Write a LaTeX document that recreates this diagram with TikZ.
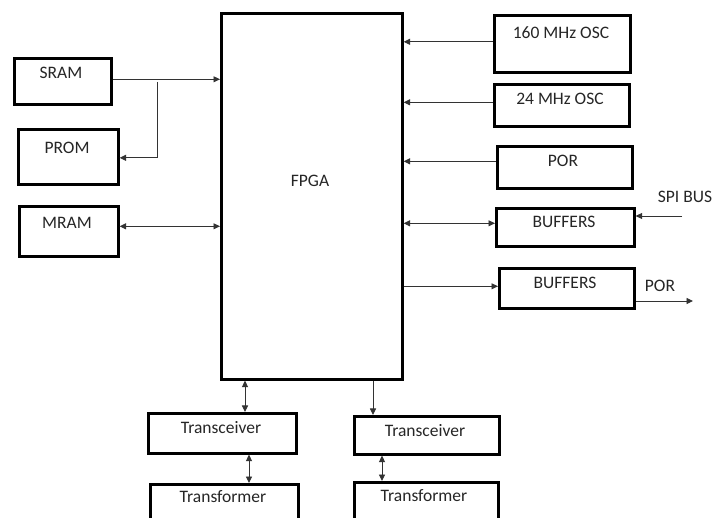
\documentclass[tikz,border=0pt]{standalone}
\usepackage{fontspec}
\setmainfont{Carlito}
\usetikzlibrary{arrows.meta,calc}
\begin{document}
\begin{tikzpicture}[x=1pt,y=-1pt,
  box/.style={draw=black, line width=2.6pt, rectangle, anchor=north west, inner sep=0pt},
  txt/.style={font=\fontsize{17.5}{20}\selectfont, inner sep=0pt, text=black!85},
  conn/.style={draw=black!80, line width=0.9pt, -{Triangle[length=6.5pt,width=6pt]}},
  bconn/.style={draw=black!80, line width=0.9pt, {Triangle[length=6.5pt,width=6pt]}-{Triangle[length=6.5pt,width=6pt]}}
]
\useasboundingbox (0,0) rectangle (715,518);
\clip (0,0) rectangle (715,518);
\fill[white] (0,0) rectangle (715,518);
% boxes
\node[box, minimum width=181pt, minimum height=366pt] (fpga) at (220,12) {};
\node[box, minimum width=97pt, minimum height=46pt] (sram) at (13,57) {};
\node[box, minimum width=100pt, minimum height=55pt] (prom) at (17,128) {};
\node[box, minimum width=99pt, minimum height=50pt] (mram) at (18,205) {};
\node[box, minimum width=136pt, minimum height=57pt] (osca) at (493,14) {};
\node[box, minimum width=135pt, minimum height=42pt] (oscb) at (493,83) {};
\node[box, minimum width=135pt, minimum height=42pt] (por) at (496,145) {};
\node[box, minimum width=138pt, minimum height=38pt] (bufa) at (495,207) {};
\node[box, minimum width=135pt, minimum height=40pt] (bufb) at (498,267) {};
\node[box, minimum width=148pt, minimum height=40pt] (txa) at (147,412) {};
\node[box, minimum width=148pt, minimum height=60pt] (tfa) at (149,483) {};
\node[box, minimum width=145pt, minimum height=38pt] (txb) at (353,415) {};
\node[box, minimum width=144pt, minimum height=60pt] (tfb) at (353,481) {};
% texts
\node[txt] (tfpga) at (310,181) {FPGA};
\node[txt] (tsram) at (61,73) {SRAM};
\node[txt] (tprom) at (67,148) {PROM};
\node[txt] (tmram) at (67,223) {MRAM};
\node[txt] (tosca) at (561,33) {160 MHz OSC};
\node[txt] (toscb) at (560,99) {24 MHz OSC};
\node[txt] (tpor) at (563,161) {POR};
\node[txt] (tbufa) at (564,222) {BUFFERS};
\node[txt] (tbufb) at (565,283) {BUFFERS};
\node[txt] (ttxa) at (221,428) {Transceiver};
\node[txt] (ttfa) at (223,497) {Transformer};
\node[txt] (ttxb) at (425,431) {Transceiver};
\node[txt] (ttfb) at (424,496) {Transformer};
\node[txt] (tspi) at (685,197) {SPI BUS};
\node[txt] (tporo) at (660,286) {POR};
% free ends
\coordinate (spiin) at (682,216);
\coordinate (porout) at (693,301);
\coordinate (br) at (157,82);
% connectors
\draw[conn] ([yshift=2pt]sram.east) -- ([yshift=2pt]sram.east -| fpga.west);
\draw[conn] (br) |- ([yshift=-1pt]prom.east);
\draw[bconn] ([yshift=5pt]mram.east) -- ([yshift=5pt]mram.east -| fpga.west);
\draw[conn] ([yshift=2pt]osca.west) -- ([yshift=2pt]osca.west -| fpga.east);
\draw[conn] ([yshift=3pt]oscb.west) -- ([yshift=3pt]oscb.west -| fpga.east);
\draw[conn] ([yshift=6pt]por.west) -- ([yshift=6pt]por.west -| fpga.east);
\draw[bconn] ([yshift=4pt]bufa.west -| fpga.east) -- ([yshift=4pt]bufa.west);
\draw[conn] (spiin) -- (spiin -| bufa.east);
\draw[conn] ([yshift=2pt]bufb.west -| fpga.east) -- ([yshift=2pt]bufb.west);
\draw[conn] (porout -| bufb.east) -- (porout);
\draw[bconn] (245,0 |- fpga.south) -- (245,0 |- txa.north);
\draw[conn] (373,0 |- fpga.south) -- (373,0 |- txb.north);
\draw[bconn] (249,0 |- txa.south) -- (249,0 |- tfa.north);
\draw[bconn] (382,0 |- txb.south) -- (382,0 |- tfb.north);
\end{tikzpicture}
\end{document}
